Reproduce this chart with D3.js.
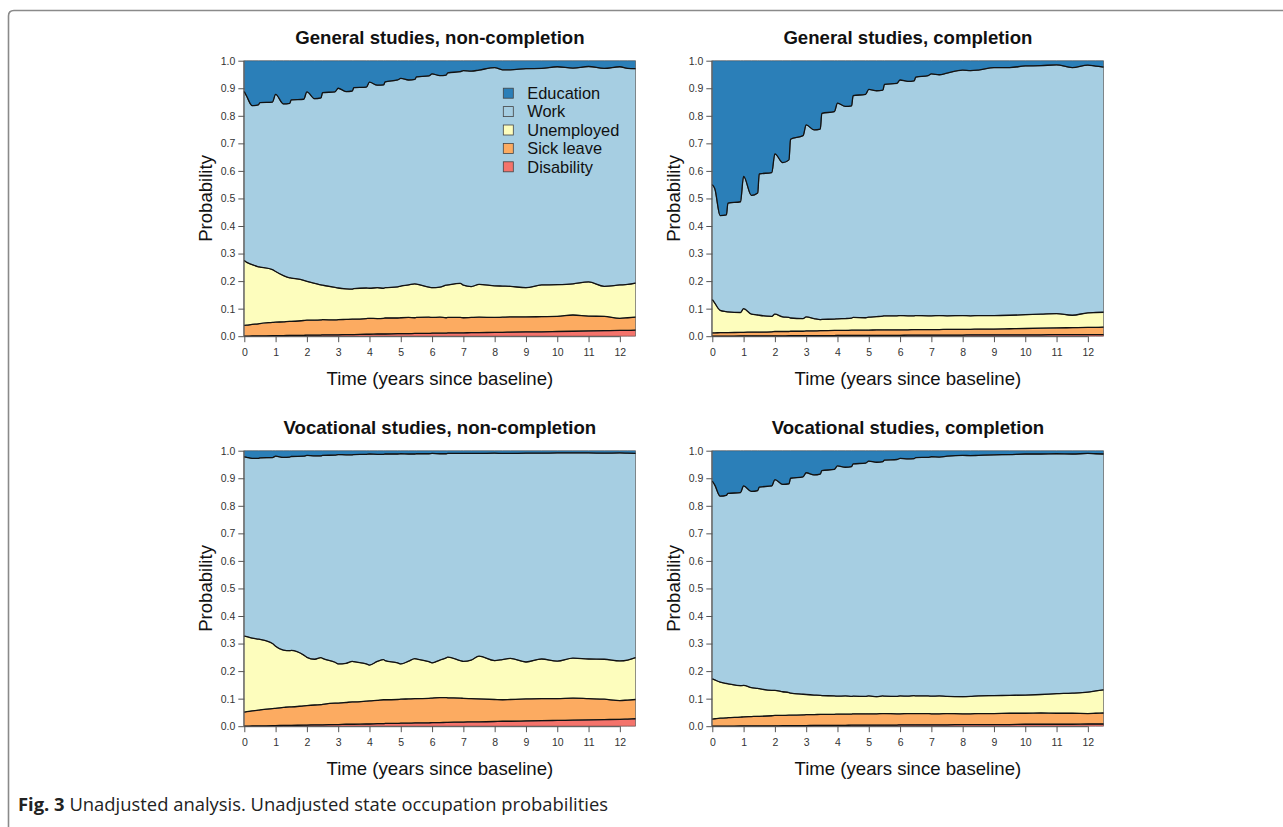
<!DOCTYPE html>
<html>
<head>
<meta charset="utf-8">
<script src="https://cdn.jsdelivr.net/npm/d3@7"></script>
<style>
  body { margin: 0; background: #fff; }
  svg text { font-family: "Liberation Sans", Arial, sans-serif; }
</style>
</head>
<body>
<div id="chart"></div>
<script>
// time grid (years since baseline), shared by all four panels
var years = [0, 0.08, 0.25, 0.45, 0.5, 0.9,
  1.0, 1.25, 1.45, 1.5, 1.9,
  2.0, 2.25, 2.45, 2.5, 2.9,
  3.0, 3.25, 3.45, 3.5, 3.9,
  4.0, 4.25, 4.45, 4.5, 4.9,
  5.0, 5.25, 5.45, 5.5, 5.9,
  6.0, 6.25, 6.45, 6.5, 6.9,
  7.0, 7.25, 7.5, 8.0, 8.25, 8.5, 9.0, 9.5, 10.0, 10.5, 11.0, 11.5, 12.0, 12.25, 12.5];

var states = ["Education", "Work", "Unemployed", "Sick leave", "Disability"];
var stateColours = ["#2b7fb8", "#a6cee2", "#fdfdbd", "#fcab61", "#f4736b"];
var xTicks = [0, 1, 2, 3, 4, 5, 6, 7, 8, 9, 10, 11, 12];
var yTicks = [0, 0.1, 0.2, 0.3, 0.4, 0.5, 0.6, 0.7, 0.8, 0.9, 1.0];

// cumulative probabilities (upper edge of each state, stacked from the bottom)
// General studies, non-completion
var genNcWork = [0.888, 0.87, 0.837, 0.84, 0.848, 0.85,
  0.878, 0.843, 0.845, 0.858, 0.86,
  0.887, 0.862, 0.865, 0.884, 0.887,
  0.9, 0.888, 0.89, 0.902, 0.904,
  0.922, 0.911, 0.912, 0.923, 0.93,
  0.936, 0.93, 0.932, 0.941, 0.945,
  0.952, 0.946, 0.948, 0.956, 0.96,
  0.964, 0.962, 0.966, 0.975, 0.967, 0.967, 0.971, 0.972, 0.978, 0.973, 0.979, 0.972, 0.978, 0.972, 0.971];
var genNcUnemp = [0.275, 0.268, 0.26, 0.252, 0.251, 0.242,
  0.235, 0.22, 0.212, 0.211, 0.203,
  0.199, 0.192, 0.186, 0.185, 0.177,
  0.175, 0.172, 0.171, 0.173, 0.175,
  0.174, 0.176, 0.174, 0.176, 0.179,
  0.182, 0.186, 0.19, 0.189, 0.178,
  0.176, 0.178, 0.185, 0.186, 0.192,
  0.185, 0.18, 0.188, 0.183, 0.182, 0.181, 0.176, 0.186, 0.187, 0.19, 0.197, 0.181, 0.186, 0.188, 0.193];
var genNcSick = [0.039, 0.04, 0.043, 0.045, 0.046, 0.05,
  0.051, 0.052, 0.054, 0.054, 0.057,
  0.058, 0.058, 0.059, 0.06, 0.059,
  0.06, 0.061, 0.062, 0.062, 0.064,
  0.065, 0.064, 0.065, 0.066, 0.066,
  0.067, 0.068, 0.067, 0.068, 0.069,
  0.068, 0.069, 0.067, 0.068, 0.068,
  0.067, 0.068, 0.069, 0.068, 0.069, 0.07, 0.07, 0.071, 0.072, 0.077, 0.073, 0.072, 0.065, 0.067, 0.069];
var genNcDis = [0, 0, 0.001, 0.001, 0.001, 0.002,
  0.002, 0.002, 0.003, 0.003, 0.003,
  0.004, 0.004, 0.004, 0.005, 0.005,
  0.005, 0.006, 0.006, 0.006, 0.007,
  0.007, 0.008, 0.008, 0.008, 0.009,
  0.009, 0.009, 0.01, 0.01, 0.01,
  0.011, 0.011, 0.011, 0.012, 0.012,
  0.012, 0.013, 0.013, 0.014, 0.014, 0.015, 0.016, 0.016, 0.017, 0.018, 0.019, 0.02, 0.021, 0.021, 0.022];

// General studies, completion
var genCWork = [0.55, 0.535, 0.438, 0.44, 0.483, 0.488,
  0.58, 0.511, 0.52, 0.589, 0.594,
  0.662, 0.63, 0.64, 0.715, 0.728,
  0.767, 0.749, 0.752, 0.809, 0.815,
  0.846, 0.834, 0.836, 0.873, 0.878,
  0.896, 0.891, 0.893, 0.914, 0.918,
  0.93, 0.925, 0.927, 0.94, 0.946,
  0.952, 0.949, 0.955, 0.966, 0.964, 0.966, 0.975, 0.975, 0.981, 0.982, 0.985, 0.975, 0.984, 0.98, 0.977];
var genCUnemp = [0.133, 0.12, 0.094, 0.089, 0.088, 0.086,
  0.1, 0.08, 0.077, 0.076, 0.072,
  0.08, 0.07, 0.068, 0.066, 0.064,
  0.07, 0.064, 0.06, 0.061, 0.062,
  0.063, 0.064, 0.066, 0.068, 0.067,
  0.069, 0.071, 0.073, 0.074, 0.074,
  0.075, 0.074, 0.074, 0.075, 0.074,
  0.074, 0.075, 0.074, 0.075, 0.074, 0.075, 0.075, 0.076, 0.078, 0.08, 0.082, 0.076, 0.085, 0.086, 0.087];
var genCSick = [0.012, 0.012, 0.013, 0.013, 0.013, 0.014,
  0.014, 0.015, 0.015, 0.015, 0.016,
  0.017, 0.017, 0.017, 0.018, 0.018,
  0.019, 0.019, 0.02, 0.02, 0.021,
  0.021, 0.021, 0.022, 0.022, 0.022,
  0.022, 0.023, 0.023, 0.023, 0.023,
  0.023, 0.023, 0.024, 0.024, 0.024,
  0.024, 0.024, 0.025, 0.025, 0.025, 0.026, 0.026, 0.027, 0.028, 0.029, 0.03, 0.031, 0.032, 0.032, 0.033];
var genCDis = [0, 0, 0, 0, 0, 0.001,
  0.001, 0.001, 0.001, 0.001, 0.001,
  0.001, 0.001, 0.002, 0.002, 0.002,
  0.002, 0.002, 0.002, 0.002, 0.002,
  0.003, 0.003, 0.003, 0.003, 0.003,
  0.003, 0.003, 0.003, 0.003, 0.003,
  0.003, 0.004, 0.004, 0.004, 0.004,
  0.004, 0.004, 0.004, 0.004, 0.005, 0.005, 0.005, 0.005, 0.005, 0.005, 0.006, 0.006, 0.006, 0.006, 0.006];

// Vocational studies, non-completion
var vocNcWork = [0.978, 0.976, 0.972, 0.972, 0.974, 0.975,
  0.98, 0.976, 0.977, 0.979, 0.98,
  0.983, 0.981, 0.981, 0.983, 0.984,
  0.986, 0.985, 0.985, 0.986, 0.987,
  0.988, 0.987, 0.987, 0.988, 0.988,
  0.989, 0.988, 0.988, 0.989, 0.989,
  0.99, 0.989, 0.989, 0.99, 0.99,
  0.99, 0.99, 0.99, 0.991, 0.99, 0.99, 0.991, 0.991, 0.992, 0.992, 0.992, 0.991, 0.992, 0.991, 0.99];
var vocNcUnemp = [0.327, 0.325, 0.32, 0.316, 0.315, 0.3,
  0.29, 0.276, 0.274, 0.275, 0.258,
  0.25, 0.243, 0.249, 0.246, 0.232,
  0.226, 0.228, 0.235, 0.234, 0.226,
  0.222, 0.235, 0.242, 0.238, 0.23,
  0.226, 0.236, 0.245, 0.244, 0.234,
  0.23, 0.24, 0.248, 0.251, 0.238,
  0.235, 0.24, 0.254, 0.238, 0.242, 0.246, 0.233, 0.244, 0.236, 0.247, 0.244, 0.243, 0.237, 0.24, 0.249];
var vocNcSick = [0.051, 0.053, 0.056, 0.058, 0.059, 0.064,
  0.065, 0.068, 0.07, 0.07, 0.074,
  0.075, 0.077, 0.078, 0.079, 0.084,
  0.084, 0.086, 0.088, 0.088, 0.091,
  0.092, 0.094, 0.096, 0.096, 0.097,
  0.098, 0.099, 0.1, 0.1, 0.101,
  0.102, 0.104, 0.104, 0.103, 0.102,
  0.101, 0.1, 0.099, 0.097, 0.096, 0.097, 0.099, 0.1, 0.1, 0.102, 0.1, 0.098, 0.093, 0.095, 0.097];
var vocNcDis = [0, 0, 0.001, 0.001, 0.001, 0.002,
  0.002, 0.003, 0.003, 0.003, 0.004,
  0.004, 0.005, 0.005, 0.005, 0.006,
  0.006, 0.007, 0.007, 0.007, 0.008,
  0.008, 0.009, 0.009, 0.01, 0.01,
  0.011, 0.011, 0.012, 0.012, 0.012,
  0.013, 0.013, 0.014, 0.014, 0.015,
  0.015, 0.016, 0.016, 0.017, 0.018, 0.018, 0.019, 0.02, 0.021, 0.022, 0.023, 0.024, 0.025, 0.026, 0.027];

// Vocational studies, completion
var vocCWork = [0.89, 0.875, 0.835, 0.838, 0.845, 0.848,
  0.872, 0.852, 0.855, 0.868, 0.872,
  0.895, 0.878, 0.88, 0.9, 0.905,
  0.92, 0.912, 0.915, 0.928, 0.932,
  0.945, 0.94, 0.942, 0.952, 0.955,
  0.962, 0.958, 0.96, 0.966, 0.968,
  0.972, 0.97, 0.971, 0.975, 0.976,
  0.978, 0.977, 0.98, 0.983, 0.982, 0.983, 0.985, 0.986, 0.988, 0.988, 0.989, 0.988, 0.99, 0.989, 0.988];
var vocCUnemp = [0.172, 0.168, 0.16, 0.155, 0.154, 0.147,
  0.148, 0.14, 0.137, 0.136, 0.13,
  0.13, 0.125, 0.122, 0.12, 0.116,
  0.115, 0.113, 0.112, 0.111, 0.11,
  0.109, 0.11, 0.108, 0.109, 0.108,
  0.11, 0.107, 0.11, 0.109, 0.108,
  0.11, 0.109, 0.111, 0.11, 0.11,
  0.109, 0.11, 0.108, 0.107, 0.108, 0.11, 0.111, 0.112, 0.113, 0.115, 0.118, 0.12, 0.124, 0.128, 0.132];
var vocCSick = [0.026, 0.027, 0.029, 0.03, 0.031, 0.033,
  0.034, 0.035, 0.036, 0.036, 0.038,
  0.039, 0.039, 0.04, 0.04, 0.041,
  0.042, 0.042, 0.043, 0.043, 0.043,
  0.044, 0.044, 0.044, 0.045, 0.045,
  0.045, 0.045, 0.046, 0.046, 0.045,
  0.045, 0.046, 0.046, 0.046, 0.046,
  0.045, 0.045, 0.046, 0.045, 0.045, 0.046, 0.046, 0.047, 0.047, 0.048, 0.047, 0.047, 0.046, 0.047, 0.048];
var vocCDis = [0, 0, 0, 0, 0, 0.001,
  0.001, 0.001, 0.001, 0.001, 0.001,
  0.001, 0.002, 0.002, 0.002, 0.002,
  0.002, 0.003, 0.003, 0.003, 0.003,
  0.003, 0.003, 0.004, 0.004, 0.004,
  0.004, 0.004, 0.004, 0.004, 0.004,
  0.005, 0.005, 0.005, 0.005, 0.005,
  0.005, 0.005, 0.005, 0.006, 0.006, 0.006, 0.006, 0.006, 0.007, 0.007, 0.007, 0.007, 0.008, 0.008, 0.008];

var panels = [
  { title: "General studies, non-completion", work: genNcWork, unemp: genNcUnemp, sick: genNcSick, dis: genNcDis, left: 244.3, top: 60.7, legend: true },
  { title: "General studies, completion", work: genCWork, unemp: genCUnemp, sick: genCSick, dis: genCDis, left: 712.3, top: 60.7 },
  { title: "Vocational studies, non-completion", work: vocNcWork, unemp: vocNcUnemp, sick: vocNcSick, dis: vocNcDis, left: 244.3, top: 450.7 },
  { title: "Vocational studies, completion", work: vocCWork, unemp: vocCUnemp, sick: vocCSick, dis: vocCDis, left: 712.3, top: 450.7 }
];

var plotW = 391.2, plotH = 275.5;

var svg = d3.select("#chart")
  .append("svg")
  .attr("width", 1283)
  .attr("height", 827);

svg.append("rect").attr("width", 1283).attr("height", 827).attr("fill", "#fff");

// figure frame (rounded top-left corner)
svg.append("path")
  .attr("d", "M8.5,827 L8.5,16 Q8.5,10.5 14,10.5 L1283,10.5")
  .attr("fill", "none")
  .attr("stroke", "#8a8a8a")
  .attr("stroke-width", 1.6);

panels.forEach(function (p) {
  var g = svg.append("g")
    .attr("transform", "translate(" + p.left + "," + p.top + ")");

  var x = d3.scaleLinear().domain([0, 12.5]).range([0, plotW]);
  var y = d3.scaleLinear().domain([0, 1]).range([plotH, 0]);

  // rows: boundaries from the bottom, 0 | dis | sick | unemp | work | 1
  var rows = years.map(function (t, i) {
    return { t: t, b: [0, p.dis[i], p.sick[i], p.unemp[i], p.work[i], 1] };
  });

  // draw states bottom up: Disability, Sick leave, Unemployed, Work, Education
  for (var k = 0; k < 5; k++) {
    var area = d3.area()
      .x(function (d) { return x(d.t); })
      .y0(function (d) { return y(d.b[k]); })
      .y1(function (d) { return y(d.b[k + 1]); })
      .curve(d3.curveMonotoneX);
    g.append("path")
      .datum(rows)
      .attr("d", area)
      .attr("fill", stateColours[4 - k])
      .attr("stroke", "#444")
      .attr("stroke-width", 0.6);
  }

  // black borders between the states
  for (var k2 = 1; k2 < 5; k2++) {
    var line = d3.line()
      .x(function (d) { return x(d.t); })
      .y(function (d) { return y(d.b[k2]); })
      .curve(d3.curveMonotoneX);
    g.append("path")
      .datum(rows)
      .attr("d", line)
      .attr("fill", "none")
      .attr("stroke", "#111")
      .attr("stroke-width", 1.3);
  }

  // axes
  var xAxis = g.append("g")
    .attr("transform", "translate(0," + plotH + ")")
    .call(d3.axisBottom(x).tickValues(xTicks).tickFormat(d3.format("d")).tickSize(6).tickSizeOuter(0).tickPadding(6));
  xAxis.select(".domain").attr("d", "M" + x(0) + ",0.5H" + x(12)).attr("stroke", "#555");

  var yAxis = g.append("g")
    .call(d3.axisLeft(y).tickValues(yTicks).tickFormat(d3.format(".1f")).tickSize(6).tickSizeOuter(0).tickPadding(3));
  yAxis.select(".domain").attr("d", "M-0.5," + y(0) + "V" + y(1)).attr("stroke", "#555");

  g.selectAll(".tick line").attr("stroke", "#555");
  g.selectAll(".tick text")
    .attr("fill", "#333")
    .style("font-size", "10.5px")
    .style("font-family", "'Liberation Sans', Arial, sans-serif");

  // title and axis labels
  g.append("text")
    .attr("x", plotW / 2)
    .attr("y", -17)
    .attr("text-anchor", "middle")
    .style("font-size", "18.6px")
    .style("font-weight", "bold")
    .attr("fill", "#111")
    .text(p.title);

  g.append("text")
    .attr("x", plotW / 2)
    .attr("y", plotH + 49)
    .attr("text-anchor", "middle")
    .style("font-size", "18.6px")
    .attr("fill", "#111")
    .text("Time (years since baseline)");

  g.append("text")
    .attr("transform", "translate(-32," + (plotH / 2) + ") rotate(-90)")
    .attr("text-anchor", "middle")
    .style("font-size", "18.6px")
    .attr("fill", "#111")
    .text("Probability");

  if (p.legend) {
    var lg = g.append("g").attr("transform", "translate(259,32.5)");
    states.forEach(function (s, i) {
      lg.append("rect")
        .attr("x", 0)
        .attr("y", i * 18.4 - 5)
        .attr("width", 10)
        .attr("height", 10)
        .attr("fill", stateColours[i])
        .attr("stroke", "#444")
        .attr("stroke-width", 0.8);
      lg.append("text")
        .attr("x", 24)
        .attr("y", i * 18.4 + 5.8)
        .style("font-size", "16.4px")
        .attr("fill", "#111")
        .text(s);
    });
  }
});

// caption
var cap = svg.append("text")
  .attr("x", 18)
  .attr("y", 811)
  .style("font-family", "'Open Sans', 'Noto Sans', sans-serif")
  .style("font-size", "18.4px")
  .attr("fill", "#222");
cap.append("tspan").style("font-weight", "bold").style("font-family", "'Open Sans', 'Noto Sans', sans-serif").text("Fig. 3");
cap.append("tspan").style("font-family", "'Open Sans', 'Noto Sans', sans-serif").text(" Unadjusted analysis. Unadjusted state occupation probabilities");
</script>
</body>
</html>
